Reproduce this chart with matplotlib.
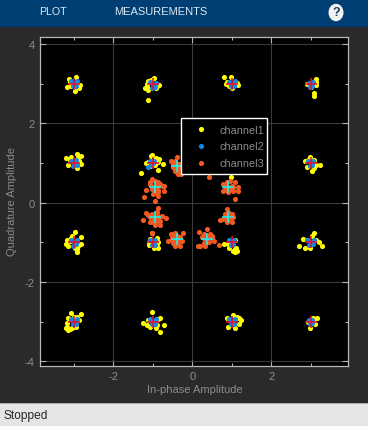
import matplotlib
matplotlib.use("Agg")
import matplotlib.pyplot as plt
from matplotlib.patches import Rectangle, Circle
from matplotlib.ticker import MultipleLocator

plt.rcParams['font.family'] = ['Liberation Sans', 'DejaVu Sans']
plt.rcParams['axes.unicode_minus'] = False

W, H = 368, 427

channel_names = ['channel1', 'channel2', 'channel3']
x_label = 'In-phase Amplitude'
y_label = 'Quadrature Amplitude'
x_ticks = [-2, 0, 2]
y_ticks = [-4, -2, 0, 2, 4]

ch1_x = [-3.11, -2.94, -2.84, -3.17, -2.87, -2.96, -3.08, -3.09, -2.92,
         -0.97, -1.13, -1.14, -0.85, -1.19, -1.12, -0.92, -1.11, -1.04, -0.90, -1.16,
         0.81, 0.97, 0.86, 1.15, 1.00, 1.10, 0.87, 1.13, 0.94,
         3.13, 3.13, 3.13, 3.07, 3.07, 2.90, 3.00, 3.10,
         -3.19, -3.06, -2.93, -2.83, -3.15, -2.92, -2.83, -2.86, -2.90, -3.10,
         -1.03, -1.04, -1.17, -0.85, -0.86, -0.75, -0.86, -1.30, -1.08, -1.13, -0.94, -0.91,
         0.98,
         2.85, 2.97, 3.08, 2.89, 3.22, 3.07, 3.03, 3.13, 2.93,
         -2.97, -3.04, -3.17, -2.83, -3.21, -3.14, -2.81, -2.96, -2.93, -3.10, -2.92, -3.08, -2.90,
         -1.03, -0.89, -1.08, -0.87, -1.10, -0.87, -0.97, -0.89, -1.10,
         0.79, 0.90, 0.93, 1.07, 1.07, 1.13, 0.98, 1.08, 1.04, 1.11,
         3.08, 3.04, 3.13, 3.21, 3.27, 2.79, 2.71, 2.85, 2.97, 2.90,
         -3.08, -2.81, -3.14, -3.00, -2.88, -3.17, -3.21, -3.14, -3.04, -2.94, -3.09, -3.18, -2.92,
         -1.03, -0.83, -1.25, -1.15, -1.07, -0.93, -0.73, -0.83, -0.90, -0.87, -1.11,
         0.87, 1.04, 1.13, 1.24, 1.17, 0.90, 1.08, 1.12, 1.19,
         3.05, 3.15, 2.92, 3.10, 2.97, 3.09]
ch1_y = [3.13, 3.17, 2.98, 2.92, 2.89, 2.81, 2.93, 3.05, 2.94,
         3.14, 3.08, 3.00, 2.98, 2.89, 2.83, 2.90, 2.60, 3.10, 2.93, 2.92,
         3.17, 3.17, 3.00, 2.97, 2.90, 3.00, 3.04, 3.03, 2.93,
         3.12, 3.04, 2.96, 2.76, 2.70, 3.00, 2.92, 3.08,
         1.13, 1.15, 1.23, 1.19, 0.96, 0.87, 0.97, 1.04, 1.13, 1.08,
         1.21, 1.17, 1.00, 1.10, 1.03, 0.97, 0.83, 0.75, 0.92, 1.03, 0.94, 1.13,
         0.64,
         1.04, 1.14, 1.08, 0.90, 0.96, 0.87, 0.79, 0.96, 1.08,
         -0.75, -0.83, -0.93, -0.87, -1.04, -1.10, -1.03, -1.13, -1.24, -0.97, -1.17, -0.90, -1.08,
         -0.77, -0.88, -0.92, -1.00, -1.07, -1.15, -1.15, -1.04, -0.98,
         -1.03, -1.03, -1.13, -1.17, -1.25, -1.23, -1.04, -0.93, -1.21, -1.15,
         -0.76, -0.85, -0.93, -1.00, -1.08, -0.91, -1.08, -1.14, -1.14, -0.93,
         -2.79, -2.81, -2.90, -2.87, -2.96, -3.03, -3.17, -3.21, -3.17, -3.14, -3.18, -3.14, -2.88,
         -2.75, -2.90, -3.04, -3.08, -3.13, -3.15, -3.08, -3.27, -3.08, -2.93, -2.96,
         -2.90, -2.83, -2.87, -2.96, -3.07, -3.14, -3.17, -2.90, -2.90,
         -2.90, -2.90, -3.00, -3.05, -3.17, -2.94]

ch2_x = [-3.07, -2.93, -3.02, -2.94, -3.00,
         -1.06, -0.93, -1.02, -0.95, -1.00,
         0.93, 1.07, 0.98, 1.05, 1.00,
         2.95, 3.05, 2.98, 3.04, 3.00,
         -3.07, -2.94, -3.02, -2.93, -3.00,
         -1.12, -0.96, -1.05, -1.08, -1.00,
         0.93, 1.07,
         2.93, 3.06, 2.98, 3.04, 3.00,
         -3.07, -2.93, -3.02, -2.95, -3.00,
         -1.06, -0.94, -1.02, -0.95, -1.00,
         0.93, 1.06, 0.98, 1.04, 1.00,
         2.91, 3.09, 2.96, 3.06, 3.00,
         -3.07, -2.93, -3.02, -2.94, -3.00,
         -1.07, -0.93, -1.02, -0.94, -1.00,
         0.93, 1.07, 0.98, 1.05, 1.00,
         2.96, 3.04, 2.99, 3.03, 3.00]
ch2_y = [3.06, 3.07, 2.93, 2.94, 3.00,
         3.05, 3.03, 2.88, 2.92, 3.00,
         3.05, 3.06, 2.93, 2.95, 3.00,
         3.03, 3.04, 2.91, 2.95, 3.00,
         1.06, 1.07, 0.93, 0.95, 1.00,
         0.89, 1.05, 0.95, 1.06, 1.00,
         1.05, 0.94,
         1.05, 1.06, 0.93, 0.96, 1.00,
         -0.93, -0.94, -1.08, -1.05, -1.00,
         -0.93, -0.94, -1.07, -1.06, -1.00,
         -0.93, -0.94, -1.07, -1.05, -1.00,
         -0.94, -0.93, -1.07, -1.05, -1.00,
         -2.93, -2.94, -3.07, -3.06, -3.00,
         -2.93, -2.94, -3.07, -3.06, -3.00,
         -2.93, -2.94, -3.07, -3.05, -3.00,
         -2.96, -2.95, -3.05, -3.03, -3.00]

ch3_x = [-1.03, -0.944, -0.86, -0.73, -1.18, -1.22, -0.944, -0.82, -1.07, -1.03, -0.944, -0.86, -0.86, -0.986, -0.90, -0.775, -1.07, -0.73,
         -0.95, -0.88, -1.00, -0.90,
         0.786, 0.87, 0.955, 1.08, 1.165, 1.04, 0.912, 0.786, 1.08, 0.87, 0.997, 1.165, 0.955, 0.828,
         0.92, 1.00, 0.88, 1.03,
         -0.86, -0.90, -1.17, -1.256, -1.07, -1.03, -0.674, -0.818, -0.944, -0.818, -1.07, -0.986, -0.90, -1.113, -0.775, -0.86,
         -0.98, -0.90, -1.00, -0.88,
         0.887, 0.938, 0.828, 0.997, 0.70, 0.786, 0.87, 0.997, 1.04, 0.912,
         0.90, 0.85, 0.95,
         -0.623, -0.547, -0.438, -0.244, -0.311, -0.522, -0.48, -0.353, -0.311, -0.438, -0.396, -0.269, -0.353, -0.48, -0.522,
         -0.42, -0.36, -0.40, -0.45,
         0.17, 0.381, 0.296, 0.448, 0.49, 0.558, 0.195, 0.153, 0.296, 0.237, 0.431, 0.322, 0.49, 0.322, 0.684,
         0.38, 0.34, 0.42, 0.30,
         -0.396, -0.547, -0.438, -0.328, -0.48, -0.438, -0.311, -0.294, -0.353, -0.48, -0.396,
         -0.42, -0.38, -0.45, -0.36,
         0.43, 0.38, -1.03]
ch3_y = [0.60, 0.556, 0.514, 0.304, 0.32, 0.135, 0.035, 0.47, 0.47, 0.345, 0.304, 0.177, 0.26, 0.22, 0.43, 0.43, 0.51, 0.43,
         0.42, 0.33, 0.40, 0.25,
         0.472, 0.514, 0.556, 0.514, 0.387, 0.303, 0.261, 0.303, 0.093, 0.43, 0.43, 0.303, 0.345, 0.387,
         0.38, 0.36, 0.33, 0.40,
         -0.134, -0.243, -0.26, -0.436, -0.369, -0.285, -0.394, -0.453, -0.562, -0.562, -0.478, -0.495, -0.411, -0.31, -0.327, -0.327,
         -0.40, -0.45, -0.33, -0.38,
         -0.159, -0.26, -0.285, -0.285, -0.436, -0.411, -0.495, -0.478, -0.369, -0.411,
         -0.33, -0.42, -0.43,
         -0.957, -0.789, -0.772, -0.772, -0.873, -0.915, -1.016, -1.041, -1.10, -1.083, -0.831, -0.957, -0.957, -0.873, -0.831,
         -0.93, -0.90, -1.00, -0.87,
         -0.73, -0.663, -0.789, -0.789, -0.898, -0.957, -1.083, -1.083, -1.016, -0.873, -0.999, -0.932, -0.831, -1.10, -1.06,
         -0.90, -0.98, -0.85, -0.88,
         1.144, 1.043, 1.06, 0.976, 0.892, 0.808, 0.85, 0.724, 0.724, 0.976, 0.766,
         0.93, 0.88, 1.00, 0.98,
         0.655, 0.93, -0.76]

ref16_x = [-3, -1, 1, 3, -3, -1, 1, 3, -3, -1, 1, 3, -3, -1, 1, 3]
ref16_y = [3, 3, 3, 3, 1, 1, 1, 1, -1, -1, -1, -1, -3, -3, -3, -3]
ref8_x = [-0.395, 0.38, -0.944, 0.911, -0.944, 0.911, -0.395, 0.38]
ref8_y = [0.933, 0.933, 0.388, 0.388, -0.368, -0.368, -0.915, -0.915]

fig = plt.figure(figsize=(W / 100, H / 100), dpi=100, facecolor='#2a2a2a')

def fx(px): return px / W
def fy(py): return 1 - py / H

fig.add_artist(Rectangle((0, fy(28)), 1, 28 / H, transform=fig.transFigure, fc='#003f73', ec='none'))
fig.add_artist(Rectangle((0, 0), 1, (H - 404.5) / H, transform=fig.transFigure, fc='#e5e5e5', ec='none'))
fig.add_artist(Rectangle((0, fy(405)), 1, 1 / H, transform=fig.transFigure, fc='#a8a8a8', ec='none'))

fig.text(fx(39), fy(12), 'PLOT', color='#dde8f2', fontsize=7.7, ha='left', va='center')
fig.text(fx(114), fy(12), 'MEASUREMENTS', color='#dde8f2', fontsize=8.0, ha='left', va='center')
fig.text(fx(3), fy(416.5), 'Stopped', color='#262626', fontsize=8.6, ha='left', va='center')

ax_left, ax_right, ax_top, ax_bottom = 40, 348, 38, 366.5
ax = fig.add_axes([fx(ax_left), fy(ax_bottom), (ax_right - ax_left) / W, (ax_bottom - ax_top) / H], facecolor='black')
ax.set_xlim(-3.856, 3.94)
ax.set_ylim(-4.105, 4.178)

ax.xaxis.set_minor_locator(MultipleLocator(1))
ax.yaxis.set_minor_locator(MultipleLocator(1))
ax.set_xticks(x_ticks)
ax.set_yticks(y_ticks)
ax.grid(True, which='major', color='#3a3a3a', lw=0.8, zorder=0)
ax.set_axisbelow(True)
ax.tick_params(which='major', direction='in', length=4.2, width=0.8, color='#b4b4b4',
               top=True, right=True, labelsize=8, labelcolor='#8c8c8c', pad=4)
ax.tick_params(which='minor', direction='in', length=2.2, width=0.8, color='#b4b4b4', top=True, right=True)
for s in ax.spines.values():
    s.set_color('#b8b8b8')
    s.set_linewidth(0.9)

ms = 3.7
l1, = ax.plot(ch1_x, ch1_y, ls='none', marker='o', ms=ms, mew=0, color='#ffff00', zorder=3, label=channel_names[0])
l2, = ax.plot(ch2_x, ch2_y, ls='none', marker='o', ms=ms, mew=0, color='#1088e4', zorder=4, label=channel_names[1])
l3, = ax.plot(ch3_x, ch3_y, ls='none', marker='o', ms=ms, mew=0, color='#f25a22', zorder=5, label=channel_names[2])
ax.plot(ref16_x, ref16_y, ls='none', marker='+', ms=8.5, mew=1.15, color='#e81030', zorder=6)
ax.plot(ref8_x, ref8_y, ls='none', marker='+', ms=8.5, mew=1.15, color='#18f0f0', zorder=6)

ax.add_patch(Rectangle((fx(180.5), fy(174.5)), 86 / W, 56 / H, transform=fig.transFigure,
                       fc='black', ec='white', lw=1.0, zorder=9, clip_on=False))
leg = ax.legend(handles=[l1, l2, l3], loc='upper left',
                bbox_to_anchor=(fx(184.75), fy(125.5)), bbox_transform=fig.transFigure,
                borderaxespad=0, fontsize=7.8, labelcolor='#8c8c8c', frameon=False,
                handlelength=3.0, handletextpad=0.25, borderpad=0, labelspacing=0.64)
leg.set_zorder(10)

ax.set_xlabel(x_label, color='#8c8c8c', fontsize=8.0)
ax.set_ylabel(y_label, color='#8c8c8c', fontsize=8.0)
ax.xaxis.set_label_coords(fx(194.5), fy(385), transform=fig.transFigure)
ax.yaxis.set_label_coords(fx(17.5), fy(202), transform=fig.transFigure)

fig.add_artist(Circle((fx(336), fy(13.5)), 7.5 / W, transform=fig.transFigure, fc='#f2f2f2', ec='none'))
fig.text(fx(336), fy(13.5), '?', color='#1f3f5f', fontsize=9, fontweight='bold', ha='center', va='center')

fig.savefig('out.png', dpi=100, facecolor=fig.get_facecolor())
